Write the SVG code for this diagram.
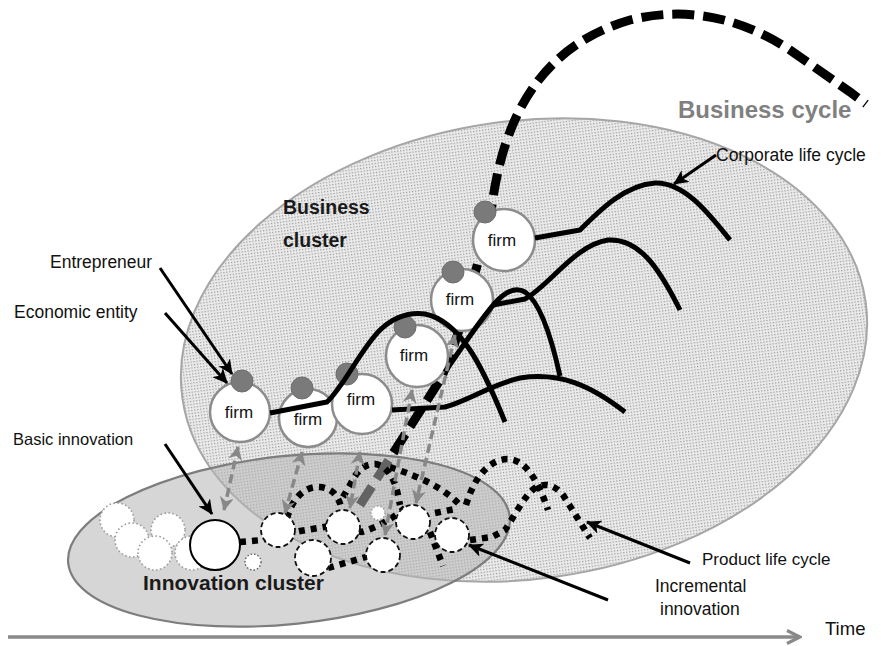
<svg xmlns="http://www.w3.org/2000/svg" width="881" height="646" viewBox="0 0 881 646">
<style>
  text { font-family: "Liberation Sans", Arial, sans-serif; fill: #111; }
  .lbl { font-size: 17.5px; }
  .firmtxt { font-size: 17px; text-anchor: middle; }
  .firm { fill: #fff; stroke: #8c8c8c; stroke-width: 2.5; }
  .ent { fill: #7a7a7a; stroke: #6e6e6e; stroke-width: 1; }
  .clc { fill: none; stroke: #000; stroke-width: 5; stroke-linejoin: round; }
  .plc { fill: none; stroke: #000; stroke-width: 6.5; stroke-dasharray: 6 6; }
  .ptr { fill: none; stroke: #000; stroke-width: 3; marker-end: url(#ah); }
  .link { fill: none; stroke: #888; stroke-width: 3.5; stroke-dasharray: 9 5; marker-start: url(#gh); marker-end: url(#gh); }
  .faded { fill: #fff; stroke: #9a9a9a; stroke-width: 1.6; stroke-dasharray: 1.5 2.5; }
  .incr { fill: #fff; stroke: #111; stroke-width: 1.8; stroke-dasharray: 5 3; }
</style>
<defs>
  <pattern id="dots" width="3" height="3" patternUnits="userSpaceOnUse">
    <rect width="3" height="3" fill="#ececec"/>
    <rect width="1.3" height="1.3" fill="#9a9a9a"/>
  </pattern>
  <marker id="ah" markerUnits="userSpaceOnUse" markerWidth="16" markerHeight="14" refX="14" refY="7" orient="auto">
    <path d="M0,0 L15,7 L0,14 L4,7 z" fill="#000"/>
  </marker>
  <marker id="gh" markerUnits="userSpaceOnUse" markerWidth="15" markerHeight="14" refX="13" refY="7" orient="auto-start-reverse">
    <path d="M0,0 L14,7 L0,14 L4,7 z" fill="#888"/>
  </marker>
  <marker id="th" markerUnits="userSpaceOnUse" markerWidth="16" markerHeight="16" refX="14" refY="8" orient="auto">
    <path d="M1,1.5 L14,8 L1,14.5" fill="none" stroke="#8a8a8a" stroke-width="3.2"/>
  </marker>
</defs>

<rect width="881" height="646" fill="#fff"/>

<!-- Business cluster -->
<g id="business-cluster">
  <ellipse cx="524" cy="350" rx="345" ry="229" transform="rotate(-8 524 350)" fill="url(#dots)" stroke="#a6a6a6" stroke-width="2"/>
</g>

<!-- Business cycle (drawn under innovation cluster and firms) -->
<g id="business-cycle">
  <path d="M 360,505 L 440,380 C 455,350 468,300 478,262 C 484,240 488,222 492,205 C 505,110 545,45 630,20 C 690,5 745,20 790,50 L 850,92 L 866,104" fill="none" stroke="#000" stroke-width="9" stroke-dasharray="22 9"/>
</g>

<!-- Innovation cluster -->
<g id="innovation-cluster">
  <ellipse cx="289" cy="540" rx="222" ry="84" transform="rotate(-6 289 540)" fill="#b4b4b4" fill-opacity="0.55" stroke="#7d7d7d" stroke-width="2.2"/>
</g>

<!-- Product life cycles (dotted) -->
<g id="product-life-cycle">
  <path class="plc" d="M 240,542 L 262,540 L 300,531 L 330,526 L 362,532 C 378,527 393,518 405,508"/>
  <path class="plc" d="M 287,518 C 293,497 305,487 318,487 C 332,487 340,497 342,512"/>
  <path class="plc" d="M 343,497 L 350,485 C 357,470 365,464 375,464 C 387,465 395,480 398,495 L 400,505"/>
  <path class="plc" d="M 328,568 L 366,557"/>
  <path class="plc" d="M 390,467 C 410,474 440,484 460,505"/>
  <path class="plc" d="M 466,505 C 475,475 490,460 507,459 C 525,459 538,480 548,510"/>
  <path class="plc" d="M 470,540 L 492,537 L 505,530 C 515,515 525,495 535,488 C 545,482 555,485 563,495 L 590,538"/>
  <path class="plc" d="M 435,513 L 455,509"/>
  <path class="plc" d="M 430,532 L 443,566"/>
</g>

<!-- Innovations -->
<g id="earlier-innovations">
  <circle class="faded" cx="117" cy="520" r="17"/>
  <circle class="faded" cx="168" cy="530" r="17"/>
  <circle class="faded" cx="132" cy="540" r="17"/>
  <circle class="faded" cx="155" cy="553" r="17"/>
  <circle class="faded" cx="192" cy="553" r="17"/>
</g>
<g id="basic-innovation">
  <circle cx="215" cy="545" r="25" fill="#fff" stroke="#000" stroke-width="2"/>
</g>
<g id="incremental-innovations">
  <circle cx="253" cy="562" r="8" fill="#fff" stroke="#555" stroke-width="1.3" stroke-dasharray="1.5 2"/>
  <circle cx="378" cy="513" r="7" fill="#fff" stroke="#999" stroke-width="1.3" stroke-dasharray="1.5 2"/>
  <circle class="incr" cx="278" cy="530" r="17"/>
  <circle class="incr" cx="313" cy="558" r="18"/>
  <circle class="incr" cx="343" cy="527" r="17"/>
  <circle class="incr" cx="383" cy="555" r="17"/>
  <circle class="incr" cx="413" cy="522" r="17"/>
  <circle class="incr" cx="452" cy="535" r="17"/>
</g>

<!-- Firms -->
<g id="firm1">
  <circle class="firm" cx="240" cy="412" r="30"/>
  <circle class="ent" cx="242" cy="381" r="11"/>
  <text class="firmtxt" x="239" y="418">firm</text>
</g>
<g id="firm2">
  <circle class="firm" cx="308" cy="418" r="29"/>
  <circle class="ent" cx="302" cy="388" r="11"/>
  <text class="firmtxt" x="308" y="425">firm</text>
</g>
<g id="firm3">
  <circle class="firm" cx="362" cy="404" r="30"/>
  <circle class="ent" cx="347" cy="374" r="11"/>
  <text class="firmtxt" x="361" y="405">firm</text>
</g>
<g id="firm4">
  <circle class="firm" cx="417" cy="356" r="31"/>
  <circle class="ent" cx="405" cy="327" r="11"/>
  <text class="firmtxt" x="414" y="361">firm</text>
</g>
<g id="firm5">
  <circle class="firm" cx="462" cy="300" r="31"/>
  <circle class="ent" cx="453" cy="272" r="11"/>
  <text class="firmtxt" x="460" y="305">firm</text>
</g>
<g id="firm6">
  <circle class="firm" cx="504" cy="240" r="31"/>
  <circle class="ent" cx="485" cy="212" r="11"/>
  <text class="firmtxt" x="502" y="246">firm</text>
</g>

<!-- Connectors -->
<g id="connectors">
  <!-- corporate life cycles -->
  <path class="clc" d="M 270,413 L 327,402 C 345,385 360,350 380,330 C 395,316 410,312 425,314 C 445,318 460,335 470,350 C 480,365 492,390 505,422"/>
  <path class="clc" d="M 392,410 L 445,407 C 470,400 490,385 520,378 C 560,372 590,385 625,412"/>
  <path class="clc" d="M 445,372 C 460,350 480,320 495,303 C 505,292 515,286 525,292 C 540,302 552,340 560,376"/>
  <path class="clc" d="M 493,305 L 525,299 C 550,285 575,245 608,240 C 640,238 660,270 680,310"/>
  <path class="clc" d="M 535,238 L 580,230 C 600,210 625,185 655,183 C 685,182 710,215 730,240"/>
  <!-- innovation to firm links -->
  <path class="link" d="M 238,447 L 224,510"/>
  <path class="link" d="M 302,452 L 285,513"/>
  <path class="link" d="M 360,452 L 350,508"/>
  <path class="link" d="M 412,390 L 385,535"/>
  <path class="link" d="M 455,335 L 416,503"/>
  <!-- label pointers -->
  <path class="ptr" d="M 160,268 L 232,374"/>
  <path class="ptr" d="M 165,313 L 227,383"/>
  <path class="ptr" d="M 165,444 L 212,514"/>
  <path class="ptr" d="M 716,155 L 674,184"/>
  <path class="ptr" d="M 690,563 L 587,522"/>
  <path class="ptr" d="M 608,600 L 469,545"/>
  <!-- time axis -->
  <path d="M 8,637 L 800,637" fill="none" stroke="#8a8a8a" stroke-width="3.5" marker-end="url(#th)"/>
</g>

<!-- Labels -->
<g id="labels">
  <text class="lbl" x="50" y="268">Entrepreneur</text>
  <text class="lbl" x="14" y="318">Economic entity</text>
  <text x="13" y="445" style="font-size:16.5px">Basic innovation</text>
  <text x="716" y="161" class="lbl">Corporate life cycle</text>
  <text x="702" y="565" style="font-size:17px">Product life cycle</text>
  <text x="655" y="592" class="lbl">Incremental</text>
  <text x="660" y="615" class="lbl">innovation</text>
  <text x="825" y="635" style="font-size:18.5px">Time</text>
  <text x="678" y="118" style="font-size:24px;font-weight:bold;fill:#808080">Business cycle</text>
  <text x="283" y="214" style="font-size:19.5px;font-weight:bold;fill:#1a1a1a">Business</text>
  <text x="283" y="247" style="font-size:19.5px;font-weight:bold;fill:#1a1a1a">cluster</text>
  <text x="143" y="590" style="font-size:21px;font-weight:bold;fill:#1a1a1a">Innovation cluster</text>
</g>
</svg>
